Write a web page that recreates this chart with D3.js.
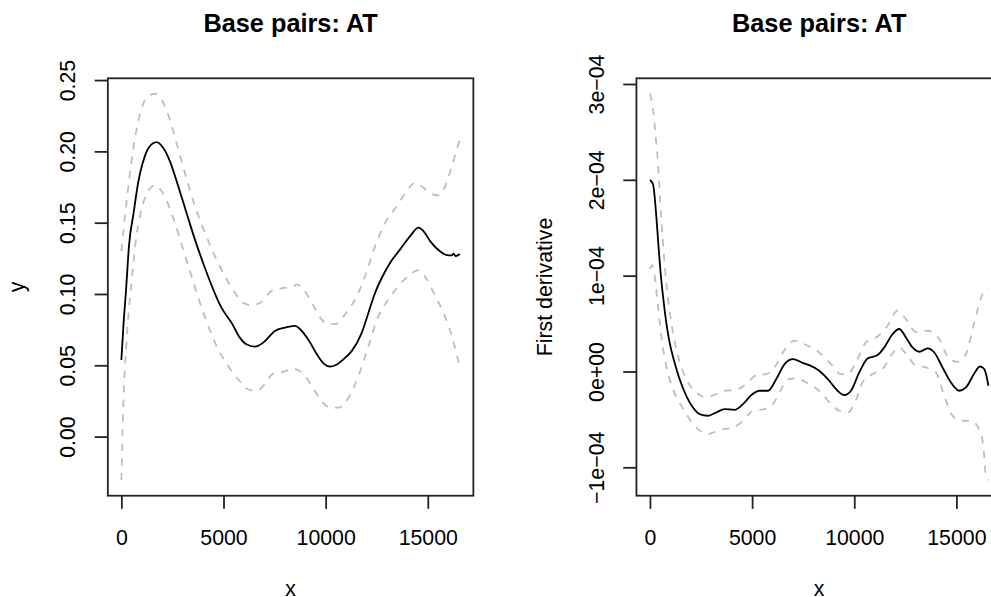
<!DOCTYPE html>
<html>
<head>
    <meta charset="utf-8">
    <title>Base pairs: AT</title>
    <style>
    body { margin: 0; background: #fff; }
    svg { display: block; font-family: "Liberation Sans", Arial, Helvetica, sans-serif; }
    </style>
</head>
<body>
<div id="plot"></div>
<script src="https://cdn.jsdelivr.net/npm/d3@7"></script>
<script>

    // left panel: smooth of AT along the sequence, with its band
    let fitX = [0, 110, 220, 380, 590, 822, 1150, 1475, 1720, 2046, 2374, 2780, 3187, 3598, 4087, 4494, 4900,
        5390, 5800, 6124, 6535, 6941, 7269, 7514, 8003, 8508, 8752, 9242, 9570, 9893, 10221, 10549, 10872,
        11283, 11772, 12096, 12423, 12751, 13158, 13647, 14137, 14543, 14788, 15116, 15522, 15933, 16178,
        16256, 16373, 16569];
    let fitY = [0.0537, 0.080, 0.101, 0.135, 0.156, 0.178, 0.1967, 0.2049, 0.2065, 0.2025, 0.1932, 0.1757,
        0.157, 0.1383, 0.1184, 0.1033, 0.0904, 0.0799, 0.0694, 0.0647, 0.0631, 0.0659, 0.0706, 0.0741, 0.0764,
        0.0776, 0.0753, 0.0659, 0.0577, 0.0514, 0.0491, 0.0505, 0.0542, 0.0601, 0.0729, 0.0869, 0.1009, 0.1114,
        0.1219, 0.1313, 0.1406, 0.1465, 0.1441, 0.1371, 0.1308, 0.1273, 0.1271, 0.1282, 0.1266, 0.128];

    let upperX = [0, 250, 578, 906, 1229, 1640, 1963, 2291, 2697, 3108, 3598, 4087, 4577, 5066, 5556, 5962,
        6369, 6858, 7348, 7837, 8410, 8591, 8914, 9325, 9731, 10138, 10466, 10955, 11445, 11934, 12423, 12913,
        13486, 13975, 14382, 14788, 15116, 15522, 15850, 16178, 16569];
    let upperY = [0.1301, 0.164, 0.2014, 0.2259, 0.2376, 0.2404, 0.2364, 0.2259, 0.206, 0.185, 0.1617, 0.143,
        0.1266, 0.1126, 0.1009, 0.0939, 0.0921, 0.0944, 0.1021, 0.104, 0.1051, 0.1068, 0.1033, 0.0939, 0.0834,
        0.0788, 0.0788, 0.0858, 0.0963, 0.1126, 0.1336, 0.15, 0.1617, 0.1722, 0.178, 0.1745, 0.1706, 0.1692,
        0.1757, 0.1897, 0.2084];

    let lowerX = [0, 88, 250, 495, 739, 984, 1312, 1640, 1963, 2291, 2619, 3025, 3432, 3843, 4249, 4738,
        5228, 5717, 6207, 6613, 7024, 7431, 7920, 8410, 8914, 9325, 9731, 10221, 10627, 11117, 11606, 12096,
        12585, 13075, 13564, 14054, 14543, 14954, 15361, 15767, 16178, 16569];
    let lowerY = [-0.0306, 0.0192, 0.0659, 0.1079, 0.1406, 0.1593, 0.1722, 0.1762, 0.1722, 0.1629, 0.15,
        0.1313, 0.1126, 0.0939, 0.0776, 0.0612, 0.0495, 0.0402, 0.0332, 0.032, 0.0367, 0.0442, 0.0453, 0.0477,
        0.0437, 0.0355, 0.0262, 0.0203, 0.0203, 0.0273, 0.0425, 0.0636, 0.0846, 0.0963, 0.1056, 0.1126, 0.1168,
        0.1103, 0.0986, 0.0869, 0.0706, 0.0484];

    // right panel: first derivative of the smooth, with its band
    let derivX = [0, 147, 225, 308, 392, 504, 636, 798, 960, 1204, 1449, 1777, 2105, 2428, 2839, 3245, 3652,
        4141, 4552, 4959, 5365, 5776, 6182, 6589, 7000, 7489, 7798, 8287, 8777, 9183, 9511, 9839, 10245, 10652,
        11141, 11469, 11875, 12203, 12531, 12854, 13182, 13589, 13917, 14323, 14734, 15141, 15468, 15875,
        16154, 16365, 16569];
    let derivY = [1.998e-4, 1.956e-4, 1.834e-4, 1.625e-4, 1.382e-4, 1.069e-4, 0.79e-4, 0.511e-4, 0.303e-4,
        0.094e-4, -0.079e-4, -0.254e-4, -0.376e-4, -0.445e-4, -0.462e-4, -0.428e-4, -0.393e-4, -0.4e-4,
        -0.341e-4, -0.247e-4, -0.201e-4, -0.201e-4, -0.079e-4, 0.077e-4, 0.129e-4, 0.088e-4, 0.067e-4,
        0.007e-4, -0.097e-4, -0.201e-4, -0.247e-4, -0.201e-4, -0.01e-4, 0.136e-4, 0.171e-4, 0.251e-4, 0.39e-4,
        0.443e-4, 0.355e-4, 0.251e-4, 0.206e-4, 0.24e-4, 0.198e-4, 0.042e-4, -0.115e-4, -0.201e-4, -0.167e-4,
        -0.021e-4, 0.052e-4, 0.025e-4, -0.149e-4];

    let dUpperX = [0, 147, 274, 392, 504, 636, 798, 1043, 1371, 1777, 2266, 2756, 3245, 3735, 4224, 4714,
        5203, 5693, 6099, 6510, 7078, 7651, 8370, 8860, 9350, 9673, 10084, 10573, 11141, 11631, 12120, 12531,
        13021, 13589, 14162, 14651, 15058, 15468, 15875, 16281, 16569];
    let dUpperY = [2.898e-4, 2.739e-4, 2.46e-4, 2.182e-4, 1.764e-4, 1.347e-4, 0.929e-4, 0.511e-4, 0.164e-4,
        -0.079e-4, -0.219e-4, -0.271e-4, -0.236e-4, -0.201e-4, -0.191e-4, -0.132e-4, -0.038e-4, -0.027e-4,
        0.042e-4, 0.198e-4, 0.32e-4, 0.276e-4, 0.182e-4, 0.077e-4, -0.027e-4, -0.027e-4, 0.094e-4, 0.303e-4,
        0.365e-4, 0.477e-4, 0.634e-4, 0.547e-4, 0.414e-4, 0.425e-4, 0.338e-4, 0.129e-4, 0.101e-4, 0.182e-4,
        0.511e-4, 0.808e-4, 0.87e-4];

    let dLowerX = [0, 98, 225, 392, 553, 798, 1126, 1532, 1938, 2350, 2839, 3407, 4063, 4552, 5042, 5610,
        6021, 6344, 6755, 7161, 7651, 8370, 8860, 9266, 9673, 10000, 10407, 10896, 11386, 11797, 12203, 12610,
        13021, 13510, 14000, 14406, 14813, 15224, 15713, 16120, 16316, 16447, 16569];
    let dLowerY = [1.069e-4, 1.11e-4, 1.0e-4, 0.686e-4, 0.373e-4, 0.06e-4, -0.184e-4, -0.358e-4, -0.497e-4,
        -0.601e-4, -0.653e-4, -0.609e-4, -0.585e-4, -0.515e-4, -0.41e-4, -0.393e-4, -0.341e-4, -0.219e-4,
        -0.079e-4, -0.073e-4, -0.115e-4, -0.219e-4, -0.341e-4, -0.41e-4, -0.428e-4, -0.341e-4, -0.115e-4,
        -0.027e-4, 0.025e-4, 0.164e-4, 0.251e-4, 0.164e-4, 0.06e-4, 0.042e-4, -0.01e-4, -0.254e-4, -0.462e-4,
        -0.515e-4, -0.515e-4, -0.601e-4, -0.776e-4, -1.089e-4, -1.135e-4];

    let xTicks = [0, 5000, 10000, 15000];
    let xTickLabels = ['0', '5000', '10000', '15000'];
    let yTicksLeft = [0, 0.05, 0.10, 0.15, 0.20, 0.25];
    let yTickLabelsLeft = ['0.00', '0.05', '0.10', '0.15', '0.20', '0.25'];
    let yTicksRight = [-1e-4, 0, 1e-4, 2e-4, 3e-4];
    let yTickLabelsRight = ['\u22121e\u221204', '0e+00', '1e\u221204', '2e\u221204', '3e\u221204'];

    function translate(x, y) {
        return 'translate(' + x + ', ' + y + ')';
    }

    function zip(xs, ys) {
        return xs.map((d, i) => [d, ys[i]]);
    }

    // R style: data range plus 4% on each side
    function padded(ext) {
        let r = ext[1] - ext[0];
        return [ext[0] - 0.04 * r, ext[1] + 0.04 * r];
    }

    let svgWidth = 991;
    let svgHeight = 597;
    let lineH = 26.3;
    let figWidth = 528.6;
    let margin = {top: 78.3, right: 2.1 * lineH, bottom: 101.3, left: 4.1 * lineH};
    let width = figWidth - margin.left - margin.right;
    let height = svgHeight - margin.top - margin.bottom;
    let tickLen = 0.5 * lineH;
    let axisFont = 21.3;

    let svg = d3.select('#plot')
        .append('svg')
          .attr('width', svgWidth)
          .attr('height', svgHeight);

    let panels = [
        {title: 'Base pairs: AT', ylab: 'y', fit: zip(fitX, fitY), upper: zip(upperX, upperY),
         lower: zip(lowerX, lowerY), yTicks: yTicksLeft, yLabels: yTickLabelsLeft},
        {title: 'Base pairs: AT', ylab: 'First derivative', fit: zip(derivX, derivY),
         upper: zip(dUpperX, dUpperY), lower: zip(dLowerX, dLowerY),
         yTicks: yTicksRight, yLabels: yTickLabelsRight}
    ];

    panels.forEach(function(p, i) {
        let g = svg.append('g')
            .attr('transform', translate(i * figWidth + margin.left, margin.top));

        let all = p.fit.concat(p.upper, p.lower);
        let x = d3.scaleLinear()
            .domain(padded(d3.extent(all, d => d[0])))
            .range([0, width]);
        let y = d3.scaleLinear()
            .domain(padded(d3.extent(all, d => d[1])))
            .range([height, 0]);

        let line = d3.line()
            .x(d => x(d[0]))
            .y(d => y(d[1]))
            .curve(d3.curveMonotoneX);

        [p.upper, p.lower].forEach(function(band) {
            g.append('path')
                .attr('d', line(band))
                .attr('fill', 'none')
                .attr('stroke', '#bebebe')
                .attr('stroke-width', 1.8)
                .attr('stroke-dasharray', '7.3,7.3');
        });

        g.append('path')
            .attr('d', line(p.fit))
            .attr('fill', 'none')
            .attr('stroke', 'black')
            .attr('stroke-width', 1.8)
            .attr('stroke-linejoin', 'round');

        g.append('rect')
            .attr('width', width)
            .attr('height', height)
            .attr('fill', 'none')
            .attr('stroke', '#222')
            .attr('stroke-width', 1.8);

        let xAxis = g.append('g')
            .attr('transform', translate(0, height))
            .call(d3.axisBottom(x)
                .tickValues(xTicks)
                .tickSize(tickLen)
                .tickPadding(21)
                .tickFormat((d, k) => xTickLabels[k]));

        let yAxis = g.append('g')
            .call(d3.axisLeft(y)
                .tickValues(p.yTicks)
                .tickSize(tickLen)
                .tickFormat((d, k) => p.yLabels[k]));

        [xAxis, yAxis].forEach(function(a) {
            a.select('.domain').remove();
            a.selectAll('line').attr('stroke', '#222').attr('stroke-width', 1.8);
            a.selectAll('text')
                .attr('fill', 'black')
                .style('font-size', axisFont + 'px')
                .style('font-family', '"Liberation Sans", Arial, Helvetica, sans-serif');
        });

        yAxis.selectAll('text')
            .attr('transform', 'rotate(-90)')
            .attr('x', 0)
            .attr('y', -1.24 * lineH)
            .attr('dy', 0)
            .attr('text-anchor', 'middle');

        g.append('text')
            .attr('x', width / 2)
            .attr('y', -1.77 * lineH)
            .attr('text-anchor', 'middle')
            .style('font-size', '25.3px')
            .style('font-weight', 'bold')
            .text(p.title);

        g.append('text')
            .attr('x', width / 2)
            .attr('y', height + 3.8 * lineH)
            .attr('text-anchor', 'middle')
            .style('font-size', axisFont + 'px')
            .text('x');

        g.append('text')
            .attr('transform', 'rotate(-90)')
            .attr('x', -height / 2)
            .attr('y', -3.2 * lineH)
            .attr('text-anchor', 'middle')
            .style('font-size', axisFont + 'px')
            .text(p.ylab);
    });

</script>
</body>
</html>
